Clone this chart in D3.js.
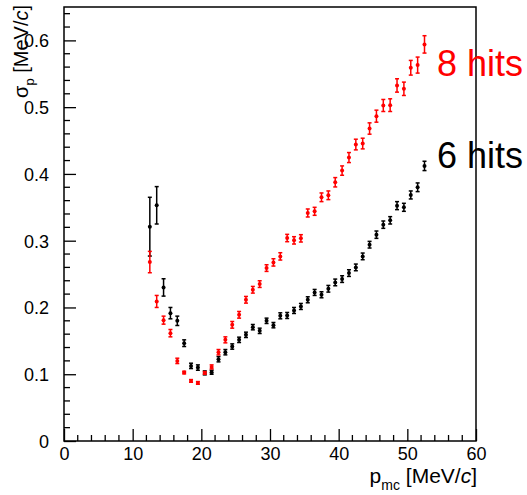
<!DOCTYPE html>
<html>
<head>
<meta charset="utf-8">
<script src="https://cdn.jsdelivr.net/npm/d3@7"></script>
<style>
  html, body { margin: 0; padding: 0; background: #fff; }
  svg { display: block; font-family: "Liberation Sans", Arial, Helvetica, sans-serif; }
</style>
</head>
<body>
<svg id="chart" width="527" height="495"></svg>
<script>
// ---- data ----
const momentum = [12.5,13.5,14.5,15.5,16.5,17.5,18.5,19.5,20.5,21.5,22.5,23.5,24.5,25.5,26.5,27.5,28.5,29.5,30.5,31.5,32.5,33.5,34.5,35.5,36.5,37.5,38.5,39.5,40.5,41.5,42.5,43.5,44.5,45.5,46.5,47.5,48.5,49.5,50.5,51.5,52.5];

const sigma8 = [0.268,0.209,0.181,0.1615,0.120,0.1025,0.090,0.087,0.102,0.111,0.133,0.1515,0.174,0.189,0.2115,0.2265,0.235,0.259,0.2675,0.2765,0.304,0.3005,0.3035,0.3415,0.344,0.365,0.368,0.3875,0.405,0.4245,0.444,0.4455,0.468,0.4865,0.5025,0.503,0.5325,0.5275,0.559,0.563,0.594];
const err8 = [0.016,0.009,0.006,0.0055,0.004,0.002,0.002,0.002,0.002,0.003,0.004,0.0045,0.005,0.005,0.005,0.005,0.005,0.005,0.0055,0.0055,0.0055,0.0055,0.0055,0.006,0.006,0.0065,0.0065,0.007,0.007,0.0075,0.008,0.008,0.0085,0.009,0.009,0.0095,0.010,0.010,0.011,0.012,0.013];

const sigma6 = [0.321,0.353,0.230,0.1915,0.180,0.1465,0.1125,0.110,0.102,0.103,0.1225,0.133,0.1415,0.1515,0.159,0.1705,0.165,0.180,0.1735,0.1875,0.188,0.1955,0.2015,0.2115,0.2225,0.219,0.228,0.2375,0.2425,0.2515,0.260,0.2765,0.294,0.309,0.324,0.3305,0.3525,0.350,0.3685,0.380,0.412];
const err6 = [0.044,0.028,0.013,0.0085,0.007,0.005,0.004,0.004,0.003,0.003,0.004,0.004,0.004,0.004,0.004,0.004,0.004,0.004,0.004,0.0045,0.0045,0.0045,0.0045,0.0045,0.0045,0.0045,0.005,0.005,0.005,0.005,0.005,0.005,0.005,0.0055,0.0055,0.0055,0.006,0.006,0.006,0.0065,0.007];

const xTicks = [0,10,20,30,40,50,60];
const yTicks = [0,0.1,0.2,0.3,0.4,0.5,0.6];
const seriesNames = ["8 hits","6 hits"];

// ---- layout ----
const svg = d3.select("#chart");
const L = 64, R = 476, T = 7, B = 441;
const x = d3.scaleLinear().domain([0,60]).range([L,R]);
const y = d3.scaleLinear().domain([0,0.65]).range([B,T]);

// minor ticks
const xMinor = d3.range(0,60.001,2).filter(v => v % 10 !== 0);
const yMinor = d3.range(0,0.6501,0.02).filter(v => Math.abs(v*10 - Math.round(v*10)) > 1e-6);

const g = svg.append("g");

// labels (drawn under the frame)
svg.append("text").attr("x",437).attr("y",76).attr("font-size","36px").attr("fill","#ff0000").text(seriesNames[0]);
svg.append("text").attr("x",437).attr("y",168).attr("font-size","36px").attr("fill","#000").text(seriesNames[1]);

// x axis (ticks point inward / upward)
const xAxis = d3.axisBottom(x).tickValues(xTicks).tickSize(-12).tickPadding(19).tickFormat(d3.format("d"));
const gx = g.append("g").attr("transform",`translate(0,${B})`).call(xAxis);
gx.append("g").selectAll("line").data(xMinor).join("line")
  .attr("x1", d => x(d)).attr("x2", d => x(d)).attr("y1", 0).attr("y2", -6)
  .attr("stroke","#000").attr("stroke-width",1.3);

const yAxis = d3.axisLeft(y).tickValues(yTicks).tickSize(-12).tickPadding(15)
  .tickFormat(d => d === 0 ? "0" : d3.format(".1f")(d));
const gy = g.append("g").attr("transform",`translate(${L},0)`).call(yAxis);
gy.append("g").selectAll("line").data(yMinor).join("line")
  .attr("x1", 0).attr("x2", 6).attr("y1", d => y(d)).attr("y2", d => y(d))
  .attr("stroke","#000").attr("stroke-width",1.3);

[gx, gy].forEach(a => {
  a.select(".domain").remove();
  a.selectAll(".tick line").attr("stroke","#000").attr("stroke-width",1.3);
  a.selectAll(".tick text").attr("font-size","18px").attr("fill","#000")
    .attr("font-family",'"Liberation Sans", Arial, sans-serif');
});
gx.selectAll(".tick text").attr("dy","0");
gy.selectAll(".tick text").attr("dy","0.36em");

// frame
g.append("rect").attr("x",L).attr("y",T).attr("width",R-L).attr("height",B-T)
  .attr("fill","none").attr("stroke","#000").attr("stroke-width",1.5);

// axis titles
const xt = svg.append("text").attr("x",R+1).attr("y",483).attr("text-anchor","end")
  .attr("font-size","21px").attr("fill","#000");
xt.append("tspan").text("p");
xt.append("tspan").attr("font-size","14px").attr("dy","7").text("mc");
xt.append("tspan").attr("dy","-7").text(" [MeV/");
xt.append("tspan").attr("font-style","italic").text("c");
xt.append("tspan").text("]");

const yt = svg.append("text").attr("transform","translate(28,5) rotate(-90)")
  .attr("text-anchor","end").attr("font-size","20px").attr("fill","#000");
yt.append("tspan").text("σ");
yt.append("tspan").attr("font-size","13px").attr("dy","6").text("p");
yt.append("tspan").attr("dy","-6").text(" [MeV/");
yt.append("tspan").attr("font-style","italic").text("c");
yt.append("tspan").text("]");

// data series
function drawSeries(vals, errs, color) {
  const data = momentum.map((m,i) => ({m, v: vals[i], e: errs[i]}));
  const s = g.append("g").attr("stroke",color).attr("fill",color).attr("stroke-width",1.5);
  const pt = s.selectAll("g").data(data).join("g");
  pt.append("line").attr("x1",d=>x(d.m)).attr("x2",d=>x(d.m))
    .attr("y1",d=>y(d.v+d.e)).attr("y2",d=>y(d.v-d.e));
  pt.append("line").attr("x1",d=>x(d.m)-2).attr("x2",d=>x(d.m)+2)
    .attr("y1",d=>y(d.v+d.e)).attr("y2",d=>y(d.v+d.e));
  pt.append("line").attr("x1",d=>x(d.m)-2).attr("x2",d=>x(d.m)+2)
    .attr("y1",d=>y(d.v-d.e)).attr("y2",d=>y(d.v-d.e));
  pt.append("circle").attr("cx",d=>x(d.m)).attr("cy",d=>y(d.v)).attr("r",2).attr("stroke","none");
}
drawSeries(sigma6, err6, "#000");
drawSeries(sigma8, err8, "#ff0000");
</script>
</body>
</html>
